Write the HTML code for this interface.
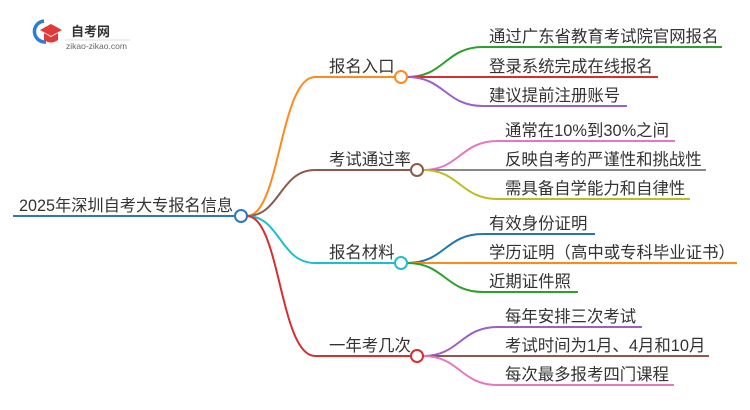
<!DOCTYPE html>
<html><head><meta charset="utf-8"><style>
html,body{margin:0;padding:0;background:#fff;width:750px;height:410px;overflow:hidden}
text{font-family:"Liberation Sans","Noto Sans CJK SC",sans-serif;fill:#333}
</style></head><body>
<svg width="750" height="410" viewBox="0 0 750 410" xmlns="http://www.w3.org/2000/svg">
<g>
<path d="M44 21 A10 10 0 1 0 46 42" stroke="#2a7fd4" stroke-width="3.5" fill="none"/>
<path d="M40 30 L51 24 L62 30 L51 36 Z" fill="#e03a3a"/>
<path d="M44 33 L44 40 Q51 45 58 40 L58 33 L51 37 Z" fill="#e03a3a"/>
<text x="71" y="36" font-size="13" font-weight="bold" style="fill:#333">自考网</text>
<line x1="65" y1="40" x2="130" y2="40" stroke="#ddd" stroke-width="1"/>
<text x="66" y="49" font-size="8.5" style="fill:#666">zikao-zikao.com</text>
</g>
<g fill="none" stroke-width="2">
<line x1="13" y1="216" x2="236" y2="216" stroke="#2a7ab8"/>
<path d="M247 216 C280 216 280 77 315 77 L396 77" stroke="#ff8a1c"/>
<path d="M247 216 C280 216 280 170 315 170 L412 170" stroke="#8b5a4a"/>
<path d="M247 216 C280 216 280 263 315 263 L396 263" stroke="#1ebed0"/>
<path d="M247 216 C280 216 280 356 315 356 L412 356" stroke="#d62f2f"/>
<path d="M407 77 C445 77 445 47 483 47 L722 47" stroke="#2ca02c"/>
<path d="M407 77 L658 77" stroke="#d62f2f"/>
<path d="M407 77 C445 77 445 106 483 106 L627 106" stroke="#9a60c8"/>
<path d="M423 170 C460 170 460 141 498 141 L675 141" stroke="#e377c2"/>
<path d="M423 170 L706 170" stroke="#888"/>
<path d="M423 170 C460 170 460 199 498 199 L690 199" stroke="#bcbd22"/>
<path d="M407 263 C445 263 445 234 483 234 L595 234" stroke="#1f77b4"/>
<path d="M407 263 L737 263" stroke="#ff8a1c"/>
<path d="M407 263 C445 263 445 292 483 292 L578 292" stroke="#2ca02c"/>
<path d="M423 356 C460 356 460 327 498 327 L642 327" stroke="#9a60c8"/>
<path d="M423 356 L709 356" stroke="#8b5a4a"/>
<path d="M423 356 C460 356 460 385 498 385 L674 385" stroke="#e377c2"/>
<circle cx="241" cy="216" r="6" fill="#fff" stroke="#2a7ab8"/>
<circle cx="401" cy="77" r="6" fill="#fff" stroke="#ff8a1c"/>
<circle cx="417" cy="170" r="6" fill="#fff" stroke="#8b5a4a"/>
<circle cx="401" cy="263" r="6" fill="#fff" stroke="#1ebed0"/>
<circle cx="417" cy="356" r="6" fill="#fff" stroke="#d62f2f"/>
</g>
<g font-size="16.4">
<text x="19" y="211" font-size="16.2">2025年深圳自考大专报名信息</text>
<text x="329" y="72">报名入口</text>
<text x="329" y="165">考试通过率</text>
<text x="329" y="258">报名材料</text>
<text x="329" y="351">一年考几次</text>
<text x="489" y="42">通过广东省教育考试院官网报名</text>
<text x="489" y="72">登录系统完成在线报名</text>
<text x="489" y="101">建议提前注册账号</text>
<text x="505" y="136">通常在10%到30%之间</text>
<text x="505" y="165">反映自考的严谨性和挑战性</text>
<text x="505" y="194">需具备自学能力和自律性</text>
<text x="489" y="229">有效身份证明</text>
<text x="489" y="258">学历证明（高中或专科毕业证书）</text>
<text x="489" y="287">近期证件照</text>
<text x="505" y="322">每年安排三次考试</text>
<text x="505" y="351">考试时间为1月、4月和10月</text>
<text x="505" y="380">每次最多报考四门课程</text>
</g>
</svg>
</body></html>
